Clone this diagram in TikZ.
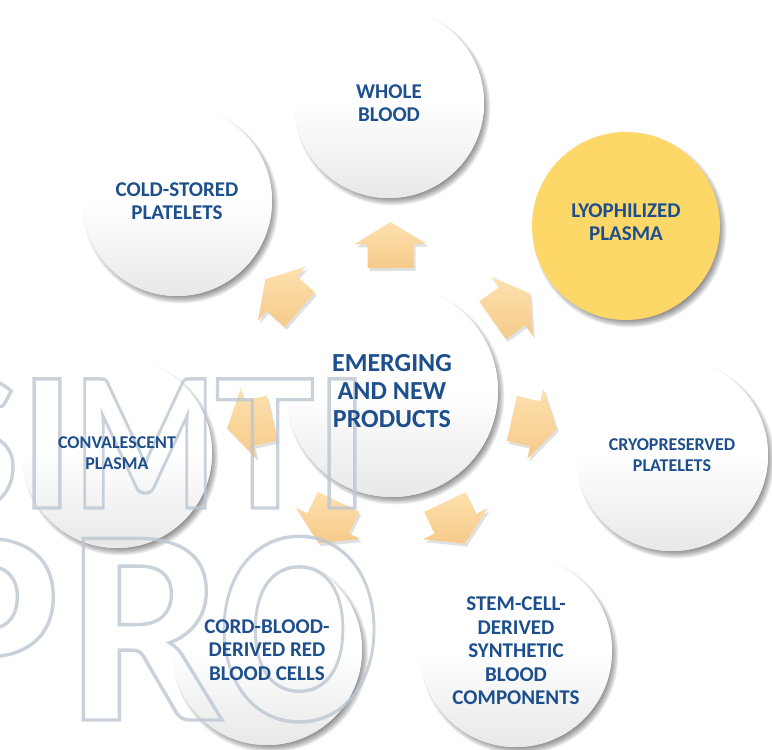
\documentclass[tikz,border=0pt]{standalone}
\usepackage{fontspec}
\setmainfont{Carlito}
\usetikzlibrary{calc}
\definecolor{txt}{HTML}{1C4F8C}
\definecolor{arrowA}{HTML}{FDE1AE}
\definecolor{arrowB}{HTML}{F6CA8A}
\definecolor{lyo}{HTML}{FDD768}
\definecolor{wmk}{HTML}{BCC7D3}
\newcommand\outlinetext[1]{\special{pdf:literal direct 1 Tr 3.4 w}#1\special{pdf:literal direct 0 Tr}}
\newcommand\arrowpath{(23,0) -- (1,36) -- (1,23) -- (-23,23) -- (-23,-23) -- (1,-23) -- (1,-36) -- cycle}
\begin{document}
\begin{tikzpicture}[x=1pt,y=1pt,
  bubble/.style={circle, inner sep=0pt, fill=white},
  yellowbubble/.style={circle, inner sep=0pt, fill=lyo},
  lbl/.style={text=txt, align=center, inner sep=0pt, font=\fontsize{21}{23.5}\selectfont\bfseries},
  lblsmall/.style={text=txt, align=center, inner sep=0pt, font=\fontsize{18}{20.5}\selectfont\bfseries},
  lblbig/.style={text=txt, align=center, inner sep=0pt, font=\fontsize{26}{28}\selectfont\bfseries},
  wm/.style={text=wmk, opacity=0.8, inner sep=0pt, anchor=base, font=\fontsize{199}{199}\selectfont\bfseries},
  wmbig/.style={wm, font=\fontsize{280}{280}\selectfont\bfseries},
  shadowring/.style={black, opacity=0.055}]
\useasboundingbox (0,0) rectangle (772,750);
\clip (0,0) rectangle (772,750);
\fill[white] (0,0) rectangle (772,750);

% centres
\coordinate (pC)  at (392,359);
\coordinate (pWB) at (389,647);
\coordinate (pCS) at (177,549);
\coordinate (pLY) at (626,524);
\coordinate (pCR) at (672,295);
\coordinate (pSC) at (516,99);
\coordinate (pCB) at (267,100);
\coordinate (pCV) at (117,297);

% soft shadows (lower right)
\foreach \p/\r in {pC/106, pWB/95, pCS/95, pLY/94, pCR/96, pSC/96, pCB/95, pCV/95}{
  \foreach \k in {0,...,9}{
    \fill[shadowring] ($(\p)+(3.5,-4.5)$) circle ({\r+3-\k*0.9});
  }
}

% circles
\node[bubble, minimum size=212] (C)  at (pC)  {};
\node[bubble, minimum size=190] (WB) at (pWB) {};
\node[bubble, minimum size=190] (CS) at (pCS) {};
\node[yellowbubble, minimum size=188] (LY) at (pLY) {};
\node[bubble, minimum size=192] (CR) at (pCR) {};
\node[bubble, minimum size=192] (SC) at (pSC) {};
\node[bubble, minimum size=190] (CB) at (pCB) {};
\node[bubble, minimum size=190] (CV) at (pCV) {};
% soft grey towards the bottom of the white discs
\foreach \n/\r in {C/106, WB/95, CS/95, CR/96, SC/96, CB/95, CV/95}{
  \begin{scope}
    \clip (\n.center) circle (\r);
    \shade[top color=white, bottom color=black!9, middle color=white]
      ($(\n.center)+(-\r,-\r)$) rectangle ($(\n.center)+(\r,\r)$);
  \end{scope}
}

% arrows from the centre towards each product
\foreach \t/\a in {WB/90.6, CS/138.5, LY/35.2, CR/-12.9, SC/-64.5, CB/-115.8, CV/-167.3}{
  \begin{scope}[shift={($(C)!146pt!(\t)+(2,-3)$)}, rotate=\a]
    \fill[black, opacity=0.12] \arrowpath;
  \end{scope}
  \begin{scope}[shift={($(C)!146pt!(\t)$)}, rotate=\a]
    \shade[top color=arrowA, bottom color=arrowB] \arrowpath;
  \end{scope}
}

% watermark
\node[wm] (w1) at (-28,242) {\outlinetext{S}};
\node[wm] (w2) at (47,242) {\outlinetext{I}};
\node[wm, xscale=0.82] (w3) at (145,242) {\outlinetext{M}};
\node[wm] (w4) at (265,242) {\outlinetext{T}};
\node[wm] (w5) at (342,242) {\outlinetext{I}};
\node[wmbig] (w6) at (-14,30) {\outlinetext{P}};
\node[wmbig] (w7) at (146,30) {\outlinetext{R}};
\node[wmbig, xscale=0.85] (w8) at (299,30) {\outlinetext{O}};

% labels
\node[lblbig] (tC)  at (pC)  {EMERGING\\AND NEW\\PRODUCTS};
\node[lbl]    (tWB) at (pWB) {WHOLE\\BLOOD};
\node[lbl]    (tCS) at (pCS) {COLD-STORED\\PLATELETS};
\node[lbl]    (tLY) at ($(pLY)+(0,4)$) {LYOPHILIZED\\PLASMA};
\node[lblsmall] (tCR) at (pCR) {CRYOPRESERVED\\PLATELETS};
\node[lbl]    (tSC) at (pSC) {STEM-CELL-\\DERIVED\\SYNTHETIC\\BLOOD\\COMPONENTS};
\node[lbl]    (tCB) at (pCB) {CORD-BLOOD-\\DERIVED RED\\BLOOD CELLS};
\node[lblsmall] (tCV) at (pCV) {CONVALESCENT\\PLASMA};
\end{tikzpicture}
\end{document}
